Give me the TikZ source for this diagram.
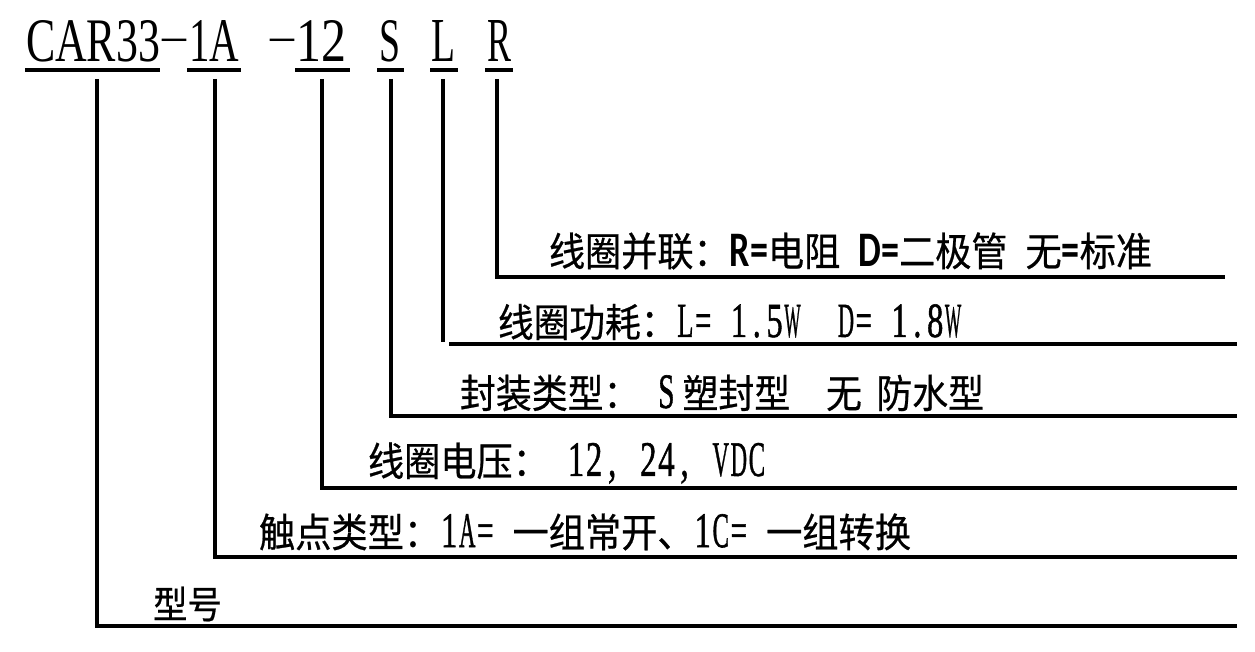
\documentclass[tikz,border=0pt]{standalone}
\usepackage{fontspec}
\usepackage{graphicx}
\newfontfamily\cjk[FakeBold=0.6]{Noto Sans CJK SC}
\newfontfamily\lat{Liberation Serif}
\newfontfamily\latl[FakeBold=1.2]{Liberation Serif}
\newfontfamily\bsans{Carlito}
% half-width (monospaced) Latin characters, as in the reference
\newlength\hwl
\newcommand\hw[1]{\settowidth\hwl{\latl #1}%
  \pgfmathsetmacro\hwx{min(0.92,15/\hwl)}%
  \makebox[16.5pt]{\scalebox{\hwx}[1.25]{\latl #1}}}
\def\monoloop#1{\ifx#1\relax\else\hw{#1}\expandafter\monoloop\fi}
\newcommand\nl[1]{\monoloop#1\relax}
\newcommand\bs[1]{\scalebox{1}[1.25]{\bsans\bfseries #1}}
\newcommand\lbl[2]{\resizebox{#1}{!}{\scalebox{1}[1.1]{\cjk\fontsize{33}{36}\selectfont #2}}}
\newcommand\ttl[3]{\resizebox{#1}{#2}{\lat\fontsize{40}{44}\selectfont #3}}
\tikzset{
  lab/.style={anchor=west, inner sep=0pt, outer sep=0pt},
  ttlnode/.style={anchor=south west, inner sep=0pt, outer sep=0pt},
  dashnode/.style={anchor=north, inner sep=0pt, outer sep=0pt},
  ln/.style={line width=4pt, line cap=butt},
  uln/.style={line width=4.5pt}
}
\begin{document}
\begin{tikzpicture}[x=1pt, y=-1pt]
\useasboundingbox (0,0) rectangle (1255,652);
\fill[white] (0,0) rectangle (1255,652);
% title pieces
\node[ttlnode] (tCAR) at (26,62) {\ttl{134pt}{41pt}{CAR33}};
\node[dashnode] (d1) at (174,39.5) {\resizebox{24pt}{!}{\lat –}};
\node[ttlnode] (t1A) at (189,62) {\ttl{50pt}{41pt}{1A}};
\node[dashnode] (d2) at (282,39.5) {\resizebox{24pt}{!}{\lat –}};
\node[ttlnode] (t12) at (296,62) {\ttl{50pt}{41pt}{12}};
\node[ttlnode] (tS) at (379,62) {\ttl{21pt}{41pt}{S}};
\node[ttlnode] (tL) at (431,62) {\ttl{24pt}{41pt}{L}};
\node[ttlnode] (tR) at (487,62) {\ttl{24pt}{41pt}{R}};
% underlines
\coordinate (uCa) at (25,70);  \coordinate (uCb) at (160,70);
\coordinate (uAa) at (187,70); \coordinate (uAb) at (241,70);
\coordinate (u2a) at (295,70); \coordinate (u2b) at (350,70);
\coordinate (uSa) at (377,70); \coordinate (uSb) at (404,70);
\coordinate (uLa) at (430,70); \coordinate (uLb) at (458,70);
\coordinate (uRa) at (485,70); \coordinate (uRb) at (513,70);
\foreach \a/\b in {uCa/uCb,uAa/uAb,u2a/u2b,uSa/uSb,uLa/uLb,uRa/uRb}
  \draw[uln] (\a) -- (\b);
% labels
\node[lab] (lR) at (549,251) {\lbl{603pt}{线圈并联：\bs{R=}电阻\hspace{0.5em}\bs{D=}二极管\hspace{0.5em}无\bs{=}标准}};
\node[lab] (lL) at (498,322) {\lbl{464pt}{线圈功耗：\nl{L=~1.5W~~D=~1.8W}}};
\node[lab] (lS) at (460,393) {\lbl{524pt}{封装类型：\nl{~S}\hspace{0.2em}塑封型\hspace{1em}无\hspace{0.4em}防水型}};
\node[lab] (l12) at (368,463) {\lbl{398pt}{线圈电压：\nl{~12,~24,~VDC}}};
\node[lab] (l1A) at (259,532) {\lbl{652pt}{触点类型：\nl{1A=~}一组常开、\nl{1C=~}一组转换}};
\node[lab] (lM) at (153,604) {\lbl{69pt}{型号}};
% connector coordinates
\coordinate (vC) at (97,79);   \coordinate (cC) at (97,626);  \coordinate (eC) at (1237,626);
\coordinate (vA) at (215,79);  \coordinate (cA) at (215,557); \coordinate (eA) at (1237,557);
\coordinate (v2) at (322,79);  \coordinate (c2) at (322,488); \coordinate (e2) at (1237,488);
\coordinate (vS) at (391,79);  \coordinate (cS) at (391,416); \coordinate (eS) at (1237,416);
\coordinate (vL) at (443,79);  \coordinate (cL) at (443,342); \coordinate (hL) at (449,344); \coordinate (eL) at (1237,344);
\coordinate (vR) at (497,79);  \coordinate (cR) at (497,277); \coordinate (eR) at (1225,277);
\draw[ln] (vC) -- (cC) -- (eC);
\draw[ln] (vA) -- (cA) -- (eA);
\draw[ln] (v2) -- (c2) -- (e2);
\draw[ln] (vS) -- (cS) -- (eS);
\draw[ln] (vL) -- (cL);
\draw[ln] (hL) -- (eL);
\draw[ln] (vR) -- (cR) -- (eR);
\end{tikzpicture}
\end{document}
